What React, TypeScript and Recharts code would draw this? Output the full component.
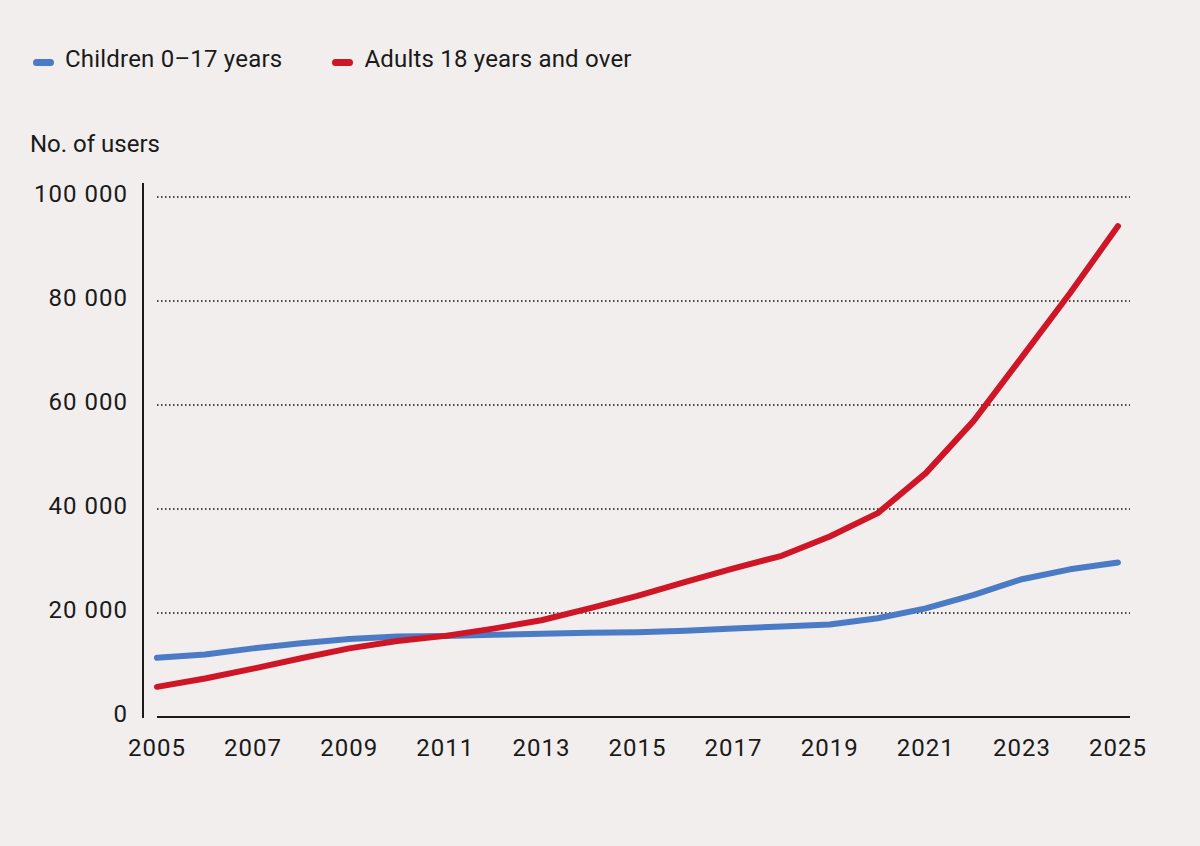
import { CartesianGrid, Line, LineChart, XAxis, YAxis } from 'recharts';

const years = [
  2005, 2006, 2007, 2008, 2009, 2010, 2011, 2012, 2013, 2014, 2015,
  2016, 2017, 2018, 2019, 2020, 2021, 2022, 2023, 2024, 2025,
];

// Children 0–17 years
const childrenUsers = [
  11400, 12000, 13200, 14200, 15000, 15500, 15600, 15800, 16000, 16200, 16300,
  16600, 17000, 17400, 17800, 19000, 20900, 23500, 26500, 28400, 29700,
];

// Adults 18 years and over
const adultUsers = [
  5800, 7400, 9300, 11300, 13200, 14600, 15600, 17000, 18600, 20900, 23300,
  26000, 28600, 31000, 34700, 39200, 46900, 57000, 69200, 81500, 94400,
];

const yTicks = [0, 20000, 40000, 60000, 80000, 100000];
const xTicks = [2005, 2007, 2009, 2011, 2013, 2015, 2017, 2019, 2021, 2023, 2025];

const BLUE = '#4a7bc4';
const RED = '#cf1626';
const INK = '#1a1a1a';
const FONT = 'Roboto, "Noto Sans", sans-serif';

const data = years.map((year, i) => ({
  year,
  children: childrenUsers[i],
  adults: adultUsers[i],
}));

const withSpaces = (v: number) => String(v).replace(/\B(?=(\d{3})+(?!\d))/g, ' ');

function LegendItem({ color, label }: { color: string; label: string }) {
  return (
    <div style={{ display: 'flex', alignItems: 'center' }}>
      <span
        style={{
          display: 'inline-block',
          width: 21,
          height: 7,
          borderRadius: 4,
          background: color,
          marginRight: 11,
          marginTop: 6,
        }}
      />
      <span>{label}</span>
    </div>
  );
}

export default function App() {
  return (
    <div
      style={{
        position: 'fixed',
        left: 0,
        top: 0,
        width: 1200,
        height: 846,
        background: '#f1eeed',
        fontFamily: FONT,
        color: INK,
        overflow: 'hidden',
      }}
    >
      <div
        style={{
          position: 'absolute',
          left: 33,
          top: 47,
          display: 'flex',
          gap: 50,
          fontSize: 24,
          lineHeight: '24px',
          letterSpacing: 0.2,
        }}
      >
        <LegendItem color={BLUE} label="Children 0–17 years" />
        <LegendItem color={RED} label="Adults 18 years and over" />
      </div>

      <div style={{ position: 'absolute', left: 30, top: 132, fontSize: 24, lineHeight: '24px' }}>
        No. of users
      </div>

      {/* vertical axis rule, set off to the left of the plot */}
      <div style={{ position: 'absolute', left: 142, top: 183, width: 2, height: 535, background: INK }} />

      <div style={{ position: 'absolute', left: 0, top: 0 }}>
        <LineChart width={1200} height={846} data={data} margin={{ top: 197, right: 70, bottom: 99, left: 97 }}>
          <CartesianGrid vertical={false} stroke="#111" strokeDasharray="1.5 2.5" strokeWidth={1.5} />
          <XAxis
            dataKey="year"
            type="number"
            domain={[2005, 2025]}
            ticks={xTicks}
            padding={{ left: 0, right: 12 }}
            height={30}
            tickSize={0}
            tickMargin={22}
            axisLine={{ stroke: INK, strokeWidth: 2 }}
            tickLine={false}
            tick={{ fill: INK, fontSize: 24, fontFamily: FONT, letterSpacing: 1 }}
          />
          <YAxis
            type="number"
            domain={[0, 100000]}
            ticks={yTicks}
            width={60}
            tickSize={0}
            tickMargin={29}
            axisLine={false}
            tickLine={false}
            tickFormatter={withSpaces}
            tick={{ fill: INK, fontSize: 24, fontFamily: FONT, letterSpacing: 1, dy: -4 }}
          />
          <Line
            type="linear"
            dataKey="children"
            stroke={BLUE}
            strokeWidth={6}
            strokeLinecap="round"
            strokeLinejoin="round"
            dot={false}
            activeDot={false}
            isAnimationActive={false}
          />
          <Line
            type="linear"
            dataKey="adults"
            stroke={RED}
            strokeWidth={6}
            strokeLinecap="round"
            strokeLinejoin="round"
            dot={false}
            activeDot={false}
            isAnimationActive={false}
          />
        </LineChart>
      </div>
    </div>
  );
}
